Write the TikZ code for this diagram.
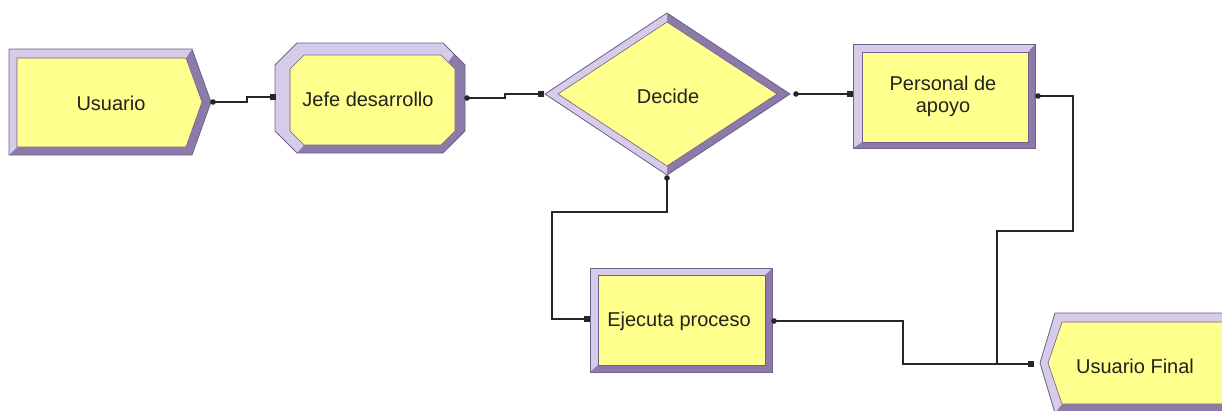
\documentclass[tikz,border=0pt]{standalone}
\usepackage{fontspec}
\setmainfont{Liberation Sans}
\definecolor{bevL}{RGB}{214,203,232}
\definecolor{bevD}{RGB}{140,122,170}
\definecolor{edgeC}{RGB}{112,96,138}
\definecolor{faceY}{RGB}{255,255,142}
\definecolor{txtC}{RGB}{34,34,30}
\definecolor{linkC}{RGB}{40,36,44}
\begin{document}
\begin{tikzpicture}[x=1pt,y=-1pt,
  rim/.style={draw=edgeC, line width=0.8pt},
  facefill/.style={fill=faceY, draw=edgeC, line width=0.6pt},
  lbl/.style={font=\fontsize{20}{22}\selectfont, text=txtC, align=center, inner sep=0pt},
  conn/.style={draw=linkC, line width=1.4pt},
]
\useasboundingbox (0,0) rectangle (1222,410);
\fill[white] (0,0) rectangle (1222,410);

% ---------- Usuario (arrival block) ----------
\fill[bevD] (9,49) -- (192,49) -- (211,102) -- (192,155) -- (9,155) -- cycle;
\fill[bevL] (9,49) -- (192,49) -- (186,58) -- (17,58) -- (17,147) -- (9,155) -- cycle;
\draw[rim] (9,49) -- (192,49) -- (211,102) -- (192,155) -- (9,155) -- cycle;
\filldraw[facefill] (17,58) -- (186,58) -- (202,102) -- (186,147) -- (17,147) -- cycle;

% ---------- Jefe desarrollo (octagonal block) ----------
\fill[bevD] (297,43) -- (443,43) -- (465,65) -- (465,131) -- (443,153) -- (297,153) -- (275,131) -- (275,65) -- cycle;
\fill[bevL] (297,153) -- (275,131) -- (275,65) -- (297,43) -- (443,43) -- (454,54) -- (448,62) -- (441,55) -- (304,55) -- (290,69) -- (290,131) -- (304,145) -- cycle;
\draw[rim] (297,43) -- (443,43) -- (465,65) -- (465,131) -- (443,153) -- (297,153) -- (275,131) -- (275,65) -- cycle;
\filldraw[facefill] (304,55) -- (441,55) -- (455,69) -- (455,131) -- (441,145) -- (304,145) -- (290,131) -- (290,69) -- cycle;

% ---------- Decide (diamond) ----------
\fill[bevD] (545,94) -- (667,13) -- (790,94) -- (667,175) -- cycle;
\fill[bevL] (667,13) -- (545,94) -- (667,175) -- (667,166) -- (558,94) -- (667,22) -- cycle;
\draw[rim] (545,94) -- (667,13) -- (790,94) -- (667,175) -- cycle;
\filldraw[facefill] (558,94) -- (667,22) -- (777,94) -- (667,166) -- cycle;

% ---------- Personal de apoyo (process block) ----------
\fill[bevD] (853,44) rectangle (1035,148);
\fill[bevL] (853,44) -- (1035,44) -- (1028,52) -- (862,52) -- (862,142) -- (853,148) -- cycle;
\draw[rim] (853,44) rectangle (1035,148);
\filldraw[facefill] (862,52) rectangle (1028,142);

% ---------- Ejecuta proceso (process block) ----------
\fill[bevD] (590,268) rectangle (772,372);
\fill[bevL] (590,268) -- (772,268) -- (765,275) -- (598,275) -- (598,365) -- (590,372) -- cycle;
\draw[rim] (590,268) rectangle (772,372);
\filldraw[facefill] (598,275) rectangle (765,365);

% ---------- Usuario Final (dispose block, runs off the edge) ----------
\begin{scope}
\clip (0,0) rectangle (1222,410);
\fill[bevD] (1240,313) -- (1055,313) -- (1040,363) -- (1055,413) -- (1240,413) -- cycle;
\fill[bevL] (1240,313) -- (1055,313) -- (1040,363) -- (1055,413) -- (1062,404) -- (1048,363) -- (1062,322) -- (1240,322) -- cycle;
\draw[rim] (1240,313) -- (1055,313) -- (1040,363) -- (1055,413) -- (1240,413);
\filldraw[facefill] (1240,322) -- (1062,322) -- (1048,363) -- (1062,404) -- (1240,404);
\end{scope}

% ---------- labels ----------
\node[lbl] (usr)  at (111,103) {Usuario};
\node[lbl] (jefe) at (368,99)  {Jefe desarrollo};
\node[lbl] (dec)  at (668,96)  {Decide};
\node[lbl] (pers) at (943,96)  {Personal de\\apoyo};
\node[lbl] (ejec) at (679,321) {Ejecuta proceso};
\node[lbl] (usrf) at (1135,366) {Usuario Final};

% ---------- ports ----------
\coordinate (usr-o)  at (213,102);
\coordinate (jefe-i) at (273,97);
\coordinate (jefe-o) at (467,98);
\coordinate (dec-i)  at (541,94);
\coordinate (dec-o)  at (796,94);
\coordinate (dec-b)  at (667,178);
\coordinate (pers-i) at (850,94);
\coordinate (pers-o) at (1038,96);
\coordinate (ejec-i) at (587,319);
\coordinate (ejec-o) at (774,321);
\coordinate (usrf-i) at (1031,364);

% ---------- connectors ----------
\draw[conn] (usr-o) -- ++(34,0) |- (jefe-i);
\draw[conn] (jefe-o) -- ++(38,0) |- (dec-i);
\draw[conn] (dec-o) -- (pers-i);
\draw[conn] (dec-b) |- (552,212) |- (ejec-i);
\draw[conn] (ejec-o) -| (903,364) -- (usrf-i);
\draw[conn] (pers-o) -| (1073,231) -| (997,364);

% output dots and input squares
\foreach \p in {usr-o,jefe-o,dec-o,dec-b,pers-o,ejec-o}
  \fill[linkC] (\p) circle (2.8);
\foreach \p in {jefe-i,dec-i,pers-i,ejec-i,usrf-i}
  \fill[linkC, shift={(\p)}] (-2.6,-2.6) rectangle (2.6,2.6);
\end{tikzpicture}
\end{document}
